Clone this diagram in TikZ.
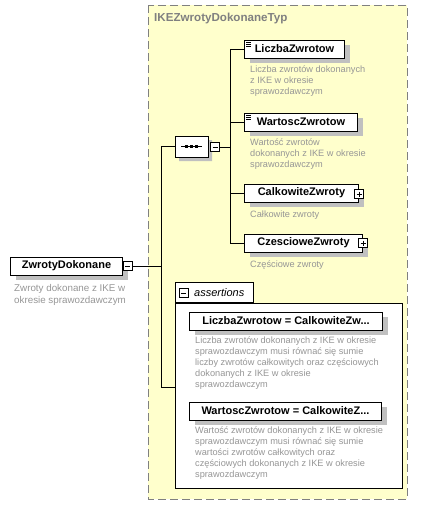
\documentclass[tikz,border=0pt]{standalone}
\usepackage{fontspec}
\setmainfont{Liberation Sans}
\usetikzlibrary{positioning, shapes.misc, shadows, calc}
\definecolor{typefill}{RGB}{255,255,204}
\definecolor{descgray}{RGB}{150,150,150}
\definecolor{titlegray}{RGB}{128,128,128}
\definecolor{shadowgray}{RGB}{192,192,192}
\tikzset{
  elem/.style={rectangle, draw=black, line width=1pt, fill=white, anchor=west, minimum height=18, inner sep=2,
    font=\fontsize{11}{12}\selectfont\bfseries,
    drop shadow={shadow xshift=5pt, shadow yshift=-5pt, fill=shadowgray, opacity=1}},
  desc/.style={anchor=north west, inner sep=0, align=left, text=descgray, font=\fontsize{9.2}{11}\selectfont},
  expander/.style={rectangle, draw=black, line width=0.6pt, fill=white, minimum size=9, inner sep=0},
  collapsebox/.style={expander, path picture={
      \draw[line width=0.6pt] ([xshift=2pt]path picture bounding box.west) -- ([xshift=-2pt]path picture bounding box.east);}},
  expandbox/.style={expander, path picture={
      \draw[line width=0.6pt] ([xshift=2pt]path picture bounding box.west) -- ([xshift=-2pt]path picture bounding box.east);
      \draw[line width=0.6pt] ([yshift=-2pt]path picture bounding box.north) -- ([yshift=2pt]path picture bounding box.south);}},
  link/.style={line width=0.8pt}
}

\begin{document}
\begin{tikzpicture}[x=1pt, y=-1pt]
  \path[use as bounding box] (0,0) rectangle (427,507);

  % complex type frame
  \draw[draw=titlegray, fill=typefill, line width=0.9pt, dash pattern=on 8pt off 4pt] (148,5) rectangle (407,499);
  \node[anchor=west, inner sep=0, text=titlegray, font=\fontsize{11.6}{12}\selectfont\bfseries] (typename) at (154,18) {IKEZwrotyDokonaneTyp};

  % root element
  \node[elem, minimum width=112] (zwroty) at (10,266) {ZwrotyDokonane};
  \node[collapsebox] (zwrotyx) at (127.5,266) {};
  \node[desc, font=\fontsize{9.8}{12}\selectfont] (zwrotydesc) at (14,284) {Zwroty dokonane z IKE w\\okresie sprawozdawczym};

  % sequence
  \node[chamfered rectangle, chamfered rectangle sep=6pt, draw=black, line width=0.8pt, fill=white,
    minimum width=33, minimum height=21, inner sep=0,
    drop shadow={shadow xshift=4pt, shadow yshift=-4pt, fill=shadowgray, opacity=1}] (seq) at (191.5,146.5) {};
  \draw[line width=0.8pt] (181,146.5) -- (202,146.5);
  \foreach \dx in {-5,0,5}
    \fill ([xshift=\dx pt]seq.center) +(-1.5,-1.5) rectangle +(1.5,1.5);
  \node[collapsebox] (seqx) at (215,147) {};

  % child elements
  \node[elem, minimum width=100] (liczba) at (244,49) {LiczbaZwrotow};
  \node[desc] (liczbadesc) at (250,66) {Liczba zwrotów dokonanych\\z IKE w okresie\\sprawozdawczym};
  \node[elem, minimum width=113] (wartosc) at (244,122) {WartoscZwrotow};
  \node[desc] (wartoscdesc) at (250,139) {Wartość zwrotów\\dokonanych z IKE w okresie\\sprawozdawczym};
  \node[elem, minimum width=114] (calkowite) at (244,193) {CalkowiteZwroty};
  \node[expandbox] (calkowitex) at (359,194) {};
  \node[desc] (calkowitedesc) at (250,211) {Całkowite zwroty};
  \node[elem, minimum width=118] (czesciowe) at (244,243) {CzescioweZwroty};
  \node[expandbox] (czesciowex) at (363,243) {};
  \node[desc] (czesciowedesc) at (250,261) {Częściowe zwroty};

  % simple type marks
  \foreach \n in {liczba, wartosc}
    \foreach \dy in {2.5,4.5,6.5}
      \draw[line width=0.6pt] ($(\n.north west)+(2,\dy)$) -- +(5,0);

  % assertions
  \node[draw=black, line width=1pt, fill=white, anchor=north west, minimum width=227, minimum height=185, inner sep=0] (assertions) at (175,303) {};
  \node[draw=black, line width=1pt, fill=white, anchor=south west, minimum width=78, minimum height=20, inner sep=0] (asserttab) at (assertions.north west) {};
  \node[collapsebox] (assertx) at (183.5,293) {};
  \node[anchor=west, inner sep=0, font=\fontsize{11}{12}\selectfont\itshape] (asserttitle) at (194,293) {assertions};
  \node[elem, minimum width=193] (assert1) at (189,321) {LiczbaZwrotow = CalkowiteZw...};
  \node[desc] (assert1desc) at (195,337) {Liczba zwrotów dokonanych z IKE w okresie\\sprawozdawczym musi równać się sumie\\liczby zwrotów całkowitych oraz częściowych\\dokonanych z IKE w okresie\\sprawozdawczym};
  \node[elem, minimum width=192] (assert2) at (189,411) {WartoscZwrotow = CalkowiteZ...};
  \node[desc] (assert2desc) at (195,427) {Wartość zwrotów dokonanych z IKE w okresie\\sprawozdawczym musi równać się sumie\\wartości zwrotów całkowitych oraz\\częściowych dokonanych z IKE w okresie\\sprawozdawczym};

  % connectors
  \coordinate (trunk) at (161,387);
  \coordinate (branch) at (230,147);
  \draw[link] (zwrotyx.east) -- (zwrotyx.east -| trunk);
  \draw[link] (seq.west) -| (trunk);
  \draw[link] (trunk) -- (trunk -| assertions.west);
  \draw[link] (seqx.east) -- (branch);
  \draw[link] (liczba.west) -| (branch);
  \draw[link] (czesciowe.west) -| (branch);
  \draw[link] (wartosc.west) -- (wartosc.west -| branch);
  \draw[link] (calkowite.west) -- (calkowite.west -| branch);
\end{tikzpicture}
\end{document}
